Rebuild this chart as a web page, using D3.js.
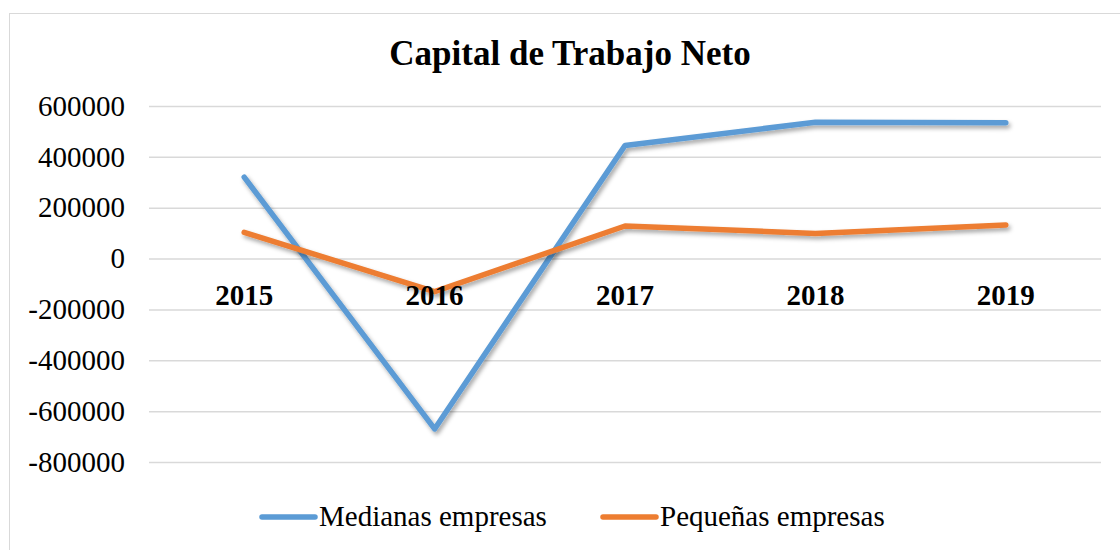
<!DOCTYPE html>
<html>
<head>
<meta charset="utf-8">
<script src="https://cdn.jsdelivr.net/npm/d3@7"></script>
<style>
  body { margin: 0; background: #fff; }
  svg, svg text { font-family: "Liberation Serif", "Times New Roman", serif; }
</style>
</head>
<body>
<div id="chart"></div>
<script>
// data
const years = ["2015", "2016", "2017", "2018", "2019"];
const medianas = [320000, -670000, 445000, 536000, 534000];
const pequenas = [103000, -130000, 128000, 99000, 132000];
const yTicks = [-800000, -600000, -400000, -200000, 0, 200000, 400000, 600000];
const seriesNames = ["Medianas empresas", "Pequeñas empresas"];
const colors = ["#5B9BD5", "#ED7D31"];

const W = 1120, H = 550;
const margin = { top: 106, right: 19, bottom: 88, left: 149 };
const width = W - margin.left - margin.right;
const height = H - margin.top - margin.bottom;

const svg = d3.select("#chart")
  .append("svg")
  .attr("width", W)
  .attr("height", H);

// soft shadow under lines
const defs = svg.append("defs");
const f = defs.append("filter").attr("id", "shadow")
  .attr("x", "-5%").attr("y", "-5%").attr("width", "110%").attr("height", "120%");
f.append("feDropShadow")
  .attr("dx", 2).attr("dy", 3).attr("stdDeviation", 2)
  .attr("flood-color", "#000").attr("flood-opacity", 0.35);

// chart frame (runs past right and bottom edges)
svg.append("rect")
  .attr("x", 9.5).attr("y", 13.5)
  .attr("width", 1200).attr("height", 600)
  .attr("fill", "none").attr("stroke", "#d9d9d9");

// title
svg.append("text")
  .attr("x", 570).attr("y", 65)
  .attr("text-anchor", "middle")
  .attr("font-size", 35).attr("font-weight", "bold")
  .text("Capital de Trabajo Neto");

const g = svg.append("g")
  .attr("transform", `translate(${margin.left},${margin.top})`);

const x = d3.scaleBand().domain(years).range([0, width]);
const y = d3.scaleLinear().domain([-800000, 600000]).range([height, 0]);

// gridlines + y labels
const yAxis = g.append("g")
  .call(d3.axisLeft(y).tickValues(yTicks).tickSize(-width).tickPadding(24).tickFormat(d3.format("d")));
yAxis.attr("font-family", null);
yAxis.select(".domain").remove();
yAxis.selectAll(".tick line").attr("stroke", "#d9d9d9").attr("stroke-width", 1.5);
yAxis.selectAll(".tick text")
  .attr("font-size", 29).attr("fill", "#000")
  .text(d => d < 0 ? "-" + Math.abs(d) : d);

// lines
const line = d3.line()
  .x((d, i) => x(years[i]) + x.bandwidth() / 2)
  .y(d => y(d));

[medianas, pequenas].forEach((vals, i) => {
  g.append("path")
    .datum(vals)
    .attr("fill", "none")
    .attr("stroke", colors[i])
    .attr("stroke-width", 5.5)
    .attr("stroke-linecap", "round")
    .attr("stroke-linejoin", "round")
    .attr("filter", "url(#shadow)")
    .attr("d", line);
});

// x labels sit just below zero line, above the lines
g.selectAll(".xlab")
  .data(years)
  .join("text")
  .attr("class", "xlab")
  .attr("x", d => x(d) + x.bandwidth() / 2)
  .attr("y", y(0) + 46)
  .attr("text-anchor", "middle")
  .attr("font-size", 29).attr("font-weight", "bold")
  .text(d => d);

// legend
const legendX = [260, 601];
seriesNames.forEach((name, i) => {
  const lg = svg.append("g").attr("transform", `translate(${legendX[i]},517)`);
  lg.append("line")
    .attr("x1", 2).attr("x2", 55)
    .attr("stroke", colors[i]).attr("stroke-width", 5.5)
    .attr("stroke-linecap", "round");
  lg.append("text")
    .attr("x", 59).attr("y", 9)
    .attr("font-size", 29)
    .text(name);
});
</script>
</body>
</html>
